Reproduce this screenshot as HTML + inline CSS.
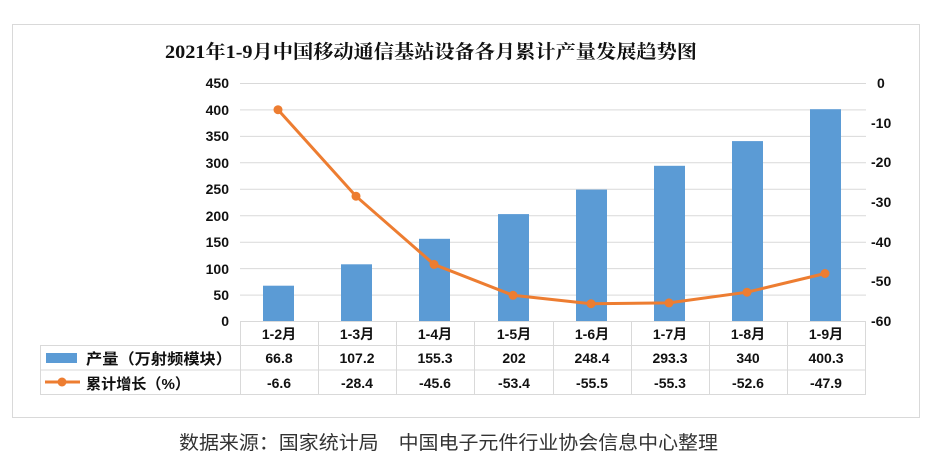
<!DOCTYPE html>
<html><head><meta charset="utf-8"><style>
body{margin:0;background:#fff;width:930px;height:464px;overflow:hidden;font-family:"Liberation Sans","Noto Sans CJK SC",sans-serif}
</style></head><body>
<svg width="930" height="464" xmlns="http://www.w3.org/2000/svg" font-family="Liberation Sans, Noto Sans CJK SC, sans-serif">
<rect x="12.5" y="24.5" width="907" height="393" fill="#fff" stroke="#d9d9d9"/>
<text x="165" y="58" textLength="532" lengthAdjust="spacingAndGlyphs" font-family="Liberation Serif, Noto Serif CJK SC, serif" font-size="19" font-weight="bold" fill="#111">2021年1-9月中国移动通信基站设备各月累计产量发展趋势图</text>
<g stroke="#d9d9d9" stroke-width="1">
<line x1="240" x2="866" y1="83.5" y2="83.5"/><line x1="240" x2="866" y1="109.9" y2="109.9"/><line x1="240" x2="866" y1="136.4" y2="136.4"/><line x1="240" x2="866" y1="162.8" y2="162.8"/><line x1="240" x2="866" y1="189.3" y2="189.3"/><line x1="240" x2="866" y1="215.7" y2="215.7"/><line x1="240" x2="866" y1="242.2" y2="242.2"/><line x1="240" x2="866" y1="268.6" y2="268.6"/><line x1="240" x2="866" y1="295.1" y2="295.1"/>
</g>
<g font-size="14" font-weight="bold" fill="#111" text-anchor="end">
<text x="229" y="88">450</text><text x="229" y="115">400</text><text x="229" y="141">350</text><text x="229" y="168">300</text><text x="229" y="194">250</text><text x="229" y="221">200</text><text x="229" y="247">150</text><text x="229" y="274">100</text><text x="229" y="300">50</text><text x="229" y="326">0</text>
</g>
<g font-size="14" font-weight="bold" fill="#111">
<text x="877" y="88">0</text><text x="871" y="128">-10</text><text x="871" y="167">-20</text><text x="871" y="207">-30</text><text x="871" y="247">-40</text><text x="871" y="286">-50</text><text x="871" y="326">-60</text>
</g>
<g fill="#5b9bd5">
<rect x="263" y="285.7" width="31" height="35.3"/>
<rect x="341" y="264.3" width="31" height="56.7"/>
<rect x="419" y="238.8" width="31" height="82.2"/>
<rect x="498" y="214.1" width="31" height="106.9"/>
<rect x="576" y="189.6" width="31" height="131.4"/>
<rect x="654" y="165.8" width="31" height="155.2"/>
<rect x="732" y="141.1" width="31" height="179.9"/>
<rect x="810" y="109.2" width="31" height="211.8"/>
</g>
<polyline fill="none" stroke="#ed7d31" stroke-width="3" points="278,109.7 356,196.2 434,264.4 513,295.3 591,303.7 669,302.9 747,292.2 825,273.5"/>
<g fill="#ed7d31">
<circle cx="278" cy="109.7" r="4.5"/><circle cx="356" cy="196.2" r="4.5"/><circle cx="434" cy="264.4" r="4.5"/><circle cx="513" cy="295.3" r="4.5"/><circle cx="591" cy="303.7" r="4.5"/><circle cx="669" cy="302.9" r="4.5"/><circle cx="747" cy="292.2" r="4.5"/><circle cx="825" cy="273.5" r="4.5"/>
</g>
<g stroke="#d9d9d9" stroke-width="1" fill="none">
<line x1="240" x2="866" y1="321.5" y2="321.5"/>
<line x1="40" x2="866" y1="345.5" y2="345.5"/>
<line x1="40" x2="866" y1="370" y2="370"/>
<line x1="40" x2="866" y1="394.5" y2="394.5"/>
<line x1="40.5" x2="40.5" y1="345" y2="394.5"/>
<line x1="240.5" x2="240.5" y1="321" y2="394.5"/><line x1="318.5" x2="318.5" y1="321" y2="394.5"/><line x1="396.5" x2="396.5" y1="321" y2="394.5"/><line x1="474.5" x2="474.5" y1="321" y2="394.5"/><line x1="553.5" x2="553.5" y1="321" y2="394.5"/><line x1="631.5" x2="631.5" y1="321" y2="394.5"/><line x1="709.5" x2="709.5" y1="321" y2="394.5"/><line x1="787.5" x2="787.5" y1="321" y2="394.5"/><line x1="865.5" x2="865.5" y1="321" y2="394.5"/>
</g>
<rect x="46" y="353" width="31" height="10" fill="#5b9bd5"/>
<line x1="45" x2="80" y1="382" y2="382" stroke="#ed7d31" stroke-width="3"/><circle cx="62" cy="382" r="4.5" fill="#ed7d31"/>
<g font-size="15" font-weight="bold" fill="#111">
<text x="86" y="364" textLength="146" lengthAdjust="spacingAndGlyphs">产量（万射频模块）</text>
<text x="86" y="389" textLength="104" lengthAdjust="spacingAndGlyphs">累计增长（%）</text>
</g>
<g font-size="14" font-weight="bold" fill="#111" text-anchor="middle">
<text x="279" y="339">1-2月</text><text x="357" y="339">1-3月</text><text x="435" y="339">1-4月</text><text x="514" y="339">1-5月</text><text x="592" y="339">1-6月</text><text x="670" y="339">1-7月</text><text x="748" y="339">1-8月</text><text x="826" y="339">1-9月</text>
<text x="279" y="363">66.8</text><text x="357" y="363">107.2</text><text x="435" y="363">155.3</text><text x="514" y="363">202</text><text x="592" y="363">248.4</text><text x="670" y="363">293.3</text><text x="748" y="363">340</text><text x="826" y="363">400.3</text>
<text x="279" y="388">-6.6</text><text x="357" y="388">-28.4</text><text x="435" y="388">-45.6</text><text x="514" y="388">-53.4</text><text x="592" y="388">-55.5</text><text x="670" y="388">-55.3</text><text x="748" y="388">-52.6</text><text x="826" y="388">-47.9</text>
</g>
<text x="179" y="449" font-size="19" fill="#333" textLength="539" lengthAdjust="spacingAndGlyphs">数据来源：国家统计局　中国电子元件行业协会信息中心整理</text>
</svg>
</body></html>
